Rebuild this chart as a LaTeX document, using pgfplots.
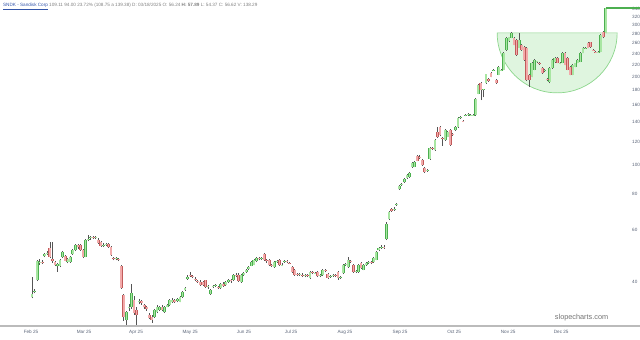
\documentclass[border=0pt]{standalone}
\usepackage{pgfplots}
\pgfplotsset{compat=1.18}
\usepackage{pgfplotstable}
\usepackage{fontspec}
\setmainfont{Liberation Sans}
\definecolor{upfill}{HTML}{A8E6A2}
\definecolor{upedge}{HTML}{4CAF50}
\definecolor{dnfill}{HTML}{F2AAAA}
\definecolor{dnedge}{HTML}{C25B5B}
\definecolor{wick}{HTML}{555555}
\definecolor{cupfill}{HTML}{B8E8B8}
\definecolor{cupedge}{HTML}{8CD68C}
\definecolor{lbl}{HTML}{5A6478}
\definecolor{hdrblue}{HTML}{3355AA}
\definecolor{axisgray}{HTML}{BBBBBB}
% up candles (close >= open)
\pgfplotstableread{
i o h l c
0 35.5 41.5 35.2 36.5
1 37.0 37.8 36.6 37.4
2 40.7 47.6 40.3 47.0
3 46.5 47.8 45.8 46.8
5 48.9 50.4 48.6 50.0
6 50.1 51.0 49.5 50.3
10 45.2 46.6 43.3 46.2
11 45.4 48.0 45.0 47.6
12 48.7 51.0 48.3 50.6
14 46.8 48.3 46.3 48.0
15 46.8 49.0 46.5 48.7
16 49.8 51.8 49.5 51.4
17 51.4 54.0 51.0 53.5
21 48.7 56.0 48.5 55.6
22 55.6 58.0 55.0 56.2
23 56.4 57.5 55.8 56.9
25 56.6 57.4 56.0 56.9
28 53.3 54.2 52.8 53.6
29 53.6 54.5 53.0 53.9
33 47.9 48.6 47.4 48.2
37 29.7 32.0 28.6 31.6
38 32.6 33.6 32.0 33.0
39 32.9 39.5 32.5 36.7
42 34.2 35.0 33.6 34.5
48 30.4 32.5 30.2 32.2
49 31.6 33.4 31.3 33.0
50 32.2 33.2 31.9 32.8
52 31.6 33.2 31.4 32.9
53 33.0 33.7 32.8 33.3
54 33.4 35.1 33.1 34.8
55 34.2 35.2 34.0 34.8
57 34.4 35.3 34.1 34.9
58 34.3 36.0 34.1 35.6
59 35.6 37.4 35.4 37.0
60 37.6 38.6 37.4 38.1
61 41.0 42.3 40.7 41.5
69 38.4 39.0 38.0 38.7
70 36.4 37.9 36.2 37.6
71 38.5 39.2 38.2 38.8
72 38.9 39.5 38.6 39.1
74 38.3 39.8 38.0 39.4
76 39.0 40.4 38.8 40.0
77 40.0 41.0 39.7 40.5
79 40.7 42.7 40.4 42.3
82 40.0 42.7 39.8 42.3
83 42.3 43.3 42.0 42.8
84 43.3 44.2 43.0 43.8
85 44.3 45.3 44.0 44.9
86 45.4 47.2 45.2 46.8
87 45.9 48.0 45.6 47.6
88 47.0 48.8 46.8 48.3
90 47.8 48.7 47.5 48.2
95 45.0 47.2 44.8 46.8
96 46.8 47.6 46.5 47.2
98 45.7 46.4 45.3 45.9
99 46.8 47.6 46.5 47.2
105 42.3 43.1 42.0 42.7
107 41.9 42.6 41.6 42.2
109 41.3 43.7 41.0 43.3
111 42.8 43.4 42.6 43.0
113 41.9 42.7 41.6 42.3
114 42.3 44.3 42.0 44.0
117 41.6 42.4 41.3 42.0
118 42.0 42.7 41.7 42.3
121 41.3 42.0 41.0 41.6
122 42.9 46.1 42.6 45.7
123 45.7 46.6 45.4 46.2
124 45.0 48.7 44.8 47.6
127 43.3 44.0 43.0 43.6
128 43.3 46.0 43.0 45.7
130 44.0 46.0 43.8 45.7
131 45.7 46.9 45.4 46.5
132 46.5 47.2 46.2 46.8
134 46.8 48.7 46.5 48.3
135 47.6 51.0 47.4 50.6
136 51.4 52.8 51.0 52.3
137 52.5 53.3 52.0 52.8
139 56.1 63.8 55.6 63.1
140 65.6 70.0 65.0 69.3
142 70.4 71.8 70.0 71.0
143 73.2 74.5 72.8 73.9
144 83.0 85.5 82.5 84.9
145 85.5 87.0 85.0 86.0
146 87.6 90.6 87.0 90.0
147 90.4 93.2 90.0 92.6
148 91.1 94.6 90.5 94.0
149 98.6 102.4 98.0 101.7
150 98.6 103.3 98.2 102.5
155 95.8 97.2 95.0 96.5
156 105.0 115.0 104.5 114.4
158 112.6 122.5 112.0 121.8
162 121.8 132.5 121.0 131.7
163 125.0 130.5 124.5 129.7
166 131.7 135.5 131.0 134.8
167 134.8 145.8 134.0 145.0
168 145.0 147.0 144.0 145.9
170 147.0 149.0 146.5 148.1
171 148.5 150.0 147.5 149.0
172 148.0 149.5 147.0 148.6
173 147.5 149.0 147.0 148.5
174 148.1 168.8 147.5 168.0
175 174.7 188.5 174.0 187.4
177 180.0 182.0 170.0 181.0
178 190.4 205.0 189.5 204.0
181 210.0 212.5 209.0 211.0
183 202.7 217.0 202.0 215.8
184 210.0 213.0 209.0 211.5
185 210.8 242.0 210.0 240.8
186 246.6 272.0 245.5 270.9
187 264.0 274.0 263.0 272.5
188 270.9 284.0 270.0 282.0
191 250.5 282.0 250.0 266.7
196 199.6 224.0 199.0 222.7
197 210.8 229.0 210.0 228.0
198 224.4 227.0 223.0 225.5
201 210.0 212.5 208.0 211.0
203 191.9 215.0 190.0 214.1
204 214.1 229.0 213.0 228.0
205 224.0 233.5 223.0 232.0
207 222.0 224.5 220.5 223.0
208 222.7 242.0 222.0 240.8
212 202.7 220.5 202.0 219.2
213 216.0 223.0 215.0 222.0
214 222.7 229.0 222.0 228.0
215 224.4 242.0 224.0 240.8
216 240.8 251.5 240.0 250.5
217 250.0 252.5 248.5 251.0
222 242.0 244.5 241.0 243.0
223 242.7 278.5 242.0 277.4
225 282.0 343.5 281.0 342.7
}\upc
% down candles (close < open)
\pgfplotstableread{
i o h l c
4 46.9 47.5 46.0 46.4
7 52.3 54.8 48.3 48.7
8 47.8 54.8 46.5 47.3
9 46.8 47.3 45.3 45.7
13 49.0 49.5 47.0 47.3
18 53.3 54.0 52.0 52.5
19 53.5 54.0 51.0 51.4
20 51.4 51.8 48.3 48.7
24 56.9 57.3 56.0 56.6
26 55.6 56.3 54.0 54.4
27 54.8 55.2 52.8 53.2
30 53.8 54.3 52.4 52.8
31 52.8 53.2 49.2 49.5
32 48.2 48.6 47.4 47.8
34 48.0 48.3 47.1 47.5
35 45.2 45.6 38.0 38.2
36 36.1 36.5 29.5 30.4
40 34.8 35.8 31.0 31.4
41 32.2 32.8 28.6 30.9
43 34.5 34.8 33.5 34.0
44 33.4 33.8 32.4 32.8
45 32.8 33.2 32.0 32.5
46 30.9 31.3 29.9 30.2
47 30.4 30.8 29.1 29.8
51 33.0 33.3 31.8 32.2
56 34.7 35.0 34.0 34.3
62 42.4 43.3 41.7 42.0
63 41.8 42.2 41.2 41.6
64 41.1 41.5 40.3 40.6
65 40.4 40.8 39.8 40.1
66 40.1 40.5 38.9 39.2
67 40.0 40.3 38.8 39.0
68 40.5 40.8 38.3 38.6
73 38.6 38.9 37.9 38.2
75 39.4 39.9 38.5 38.8
78 40.5 41.0 39.8 40.2
80 42.3 42.9 41.5 42.0
81 42.3 43.0 40.1 40.4
89 48.2 48.7 47.4 47.8
91 49.8 50.2 47.3 47.6
92 47.6 48.0 46.6 47.0
93 47.6 48.0 45.4 45.7
94 45.7 46.2 45.0 45.4
97 47.6 48.0 45.4 45.7
100 47.2 47.6 46.4 46.8
101 46.6 46.9 46.0 46.4
102 45.0 45.4 43.0 43.3
103 44.0 44.4 42.0 42.3
104 42.6 43.0 41.9 42.3
106 42.4 42.8 41.6 41.9
108 42.2 42.5 41.5 41.8
110 43.3 43.6 42.5 42.8
112 43.3 43.6 41.6 41.9
115 44.0 44.3 43.2 43.6
116 42.6 42.9 41.0 41.3
119 42.3 42.6 41.6 42.0
120 43.3 43.6 40.8 41.3
125 47.0 47.4 46.4 46.8
126 45.7 46.0 43.0 43.3
129 46.5 46.8 44.4 44.7
133 46.8 47.2 46.2 46.5
138 52.8 53.3 52.0 52.5
141 70.8 71.5 69.5 70.0
151 107.4 108.0 103.0 103.5
152 106.6 108.5 105.2 106.0
153 104.1 104.8 99.6 100.1
154 97.8 98.5 94.0 94.8
157 114.4 115.5 113.0 114.0
159 129.7 134.8 124.0 124.8
160 134.8 135.5 126.0 126.7
161 123.7 124.5 116.3 123.0
164 131.7 132.5 116.5 117.1
165 127.7 128.5 126.0 127.0
169 141.8 142.5 140.5 141.3
176 190.4 191.5 166.6 180.2
179 197.0 198.0 192.0 193.0
180 205.9 207.0 199.0 199.6
182 194.9 196.0 189.5 190.4
189 270.9 272.0 255.5 256.4
190 266.7 268.0 236.0 237.1
192 256.4 258.0 245.5 246.6
193 252.4 254.0 227.0 228.0
194 250.5 252.0 194.0 194.9
195 202.7 204.0 184.5 194.9
199 223.0 225.0 220.0 222.0
200 214.1 215.5 205.0 205.9
202 196.0 198.0 193.0 194.9
206 231.6 233.0 222.0 222.7
209 240.8 242.0 218.5 219.2
210 232.0 233.0 210.0 210.8
211 215.8 217.0 202.0 202.7
218 260.4 261.5 249.5 250.5
219 262.0 263.0 251.0 252.0
220 247.5 248.5 245.0 246.6
221 243.5 245.0 241.5 242.7
224 284.0 286.0 270.0 272.0
}\dnc
\pgfplotsset{
  candle/.style 2 args={draw=none, mark=none, forget plot,
    error bars/.cd, y dir=plus, y explicit, error mark=none,
    error bar style={line width=#1, draw=#2, solid}},
}
\begin{document}
\begin{tikzpicture}
\path[use as bounding box] (0,-3.5mm) rectangle (160mm,81.5mm);
\begin{axis}[
  at={(0,0)}, anchor=south west,
  scale only axis, width=156.5mm, height=81.5mm,
  ymode=log, ymin=28.35, ymax=364.9,
  xmin=-12.55, xmax=232.9,
  clip=false,
  axis line style={draw=none},
  major tick length=0pt,
  ytick pos=right, yticklabel pos=right,
  xtick pos=bottom,
  ytick={40,60,80,100,120,140,160,180,200,220,240,260,280,300,320,340},
  yticklabels={40,60,80,100,120,140,160,180,200,220,240,260,280,300,320,340},
  yticklabel style={font=\fontsize{3.3}{4}\selectfont, text=lbl, anchor=west, xshift=0.3mm},
  xtick={-0.4,20.4,40.8,62.0,83.1,101.6,122.7,144.3,165.5,186.7,207.5},
  xticklabels={Feb 25,Mar 25,Apr 25,May 25,Jun 25,Jul 25,Aug 25,Sep 25,Oct 25,Nov 25,Dec 25},
  xticklabel style={font=\fontsize{3.3}{4}\selectfont, text=lbl, anchor=north, yshift=0.2mm},
]
\fill[fill=cupfill, fill opacity=0.45, draw=cupedge, line width=0.5pt]
  ([xshift=-15mm]axis cs:205.9,282) arc[start angle=180, end angle=360, radius=15mm] -- cycle;
\draw[color=axisgray, line width=1pt] (rel axis cs:0,0) -- (rel axis cs:1.0224,0);
% wicks
\addplot[candle={0.5pt}{wick}] table[x=i, y=l, y error plus expr={\thisrow{h}-\thisrow{l}}] {\upc};
\addplot[candle={0.5pt}{wick}] table[x=i, y=l, y error plus expr={\thisrow{h}-\thisrow{l}}] {\dnc};
% up bodies
\addplot[candle={2.0pt}{upedge}] table[x=i, y=o, y error plus expr={\thisrow{c}-\thisrow{o}}] {\upc};
\addplot[candle={1.2pt}{upfill}] table[x=i, y=o, y error plus expr={\thisrow{c}-\thisrow{o}}] {\upc};
% down bodies
\addplot[candle={2.0pt}{dnedge}] table[x=i, y=c, y error plus expr={\thisrow{o}-\thisrow{c}}] {\dnc};
\addplot[candle={1.2pt}{dnfill}] table[x=i, y=c, y error plus expr={\thisrow{o}-\thisrow{c}}] {\dnc};
% last price line
\addplot[upedge, line width=1pt, forget plot] coordinates {(225,342.7) (238.4,342.7)};
\node[anchor=north west, font=\fontsize{3.3}{4}\selectfont, inner sep=0pt] at ([xshift=0.7mm,yshift=-0.8mm]rel axis cs:0,1)
  {\textcolor{hdrblue}{\underline{SNDK - Sandisk Corp}}\ \textcolor{gray}{109.11 94.00 23.72\% (108.75 a 139.38) D: 03/18/2025 O: 56.24 \textbf{H:} \textbf{57.89} L: 54.37 C: 56.62 V: 138.29}};
\node[anchor=south east, font=\fontsize{5.2}{6}\selectfont, text=black!55, inner sep=0pt] at (rel axis cs:0.972,0.015) {slopecharts.com};
\end{axis}
\end{tikzpicture}
\end{document}
